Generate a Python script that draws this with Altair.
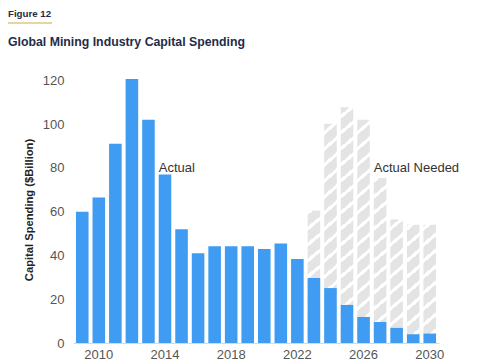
import altair as alt
import pandas as pd

# ---- data ----
years = [2009, 2010, 2011, 2012, 2013, 2014, 2015, 2016, 2017, 2018, 2019,
         2020, 2021, 2022, 2023, 2024, 2025, 2026, 2027, 2028, 2029, 2030]
actual = [60, 66.5, 91, 120.6, 102, 77, 52, 41, 44.2, 44.2, 44.2,
          43, 45.5, 38.4, 29.7, 25.1, 17.4, 11.9, 9.6, 6.9, 4.0, 4.3]
needed_years = [2023, 2024, 2025, 2026, 2027, 2028, 2029, 2030]
needed = [60.5, 100.2, 107.7, 102, 75.4, 56.4, 54, 54]
tick_years = [2010, 2014, 2018, 2022, 2026, 2030]
y_ticks = [0, 20, 40, 60, 80, 100, 120]
labels = ["Actual", "Actual Needed"]
label_years = [2014, 2027]
label_values = [80, 80]
fig_label = "Figure 12"
fig_title = "Global Mining Industry Capital Spending"

# ---- styling ----
FONT = "Liberation Sans"
BLUE = "#3f9cf2"
GRAY = "#e4e4e4"
NAVY = "#1f2c48"
PLOT_W = 366
PLOT_H = 267
Y_MAX = 122
BAR_W = 12.6
SLOPE = 0.85
PERIOD = 16.0
WHITE = 4.2

df_actual = pd.DataFrame({"year": years, "value": actual})
df_needed = pd.DataFrame({"year": needed_years, "value": needed})
df_labels = pd.DataFrame({"year": label_years, "value": label_values, "label": labels})

x_scale = alt.Scale(domain=years, paddingInner=0.24, paddingOuter=0.18)
y_scale = alt.Scale(domain=[0, Y_MAX], nice=False)

x_axis = alt.Axis(values=tick_years, labelAngle=0, labelFont=FONT, labelFontSize=13,
                  labelColor="#555555", ticks=False, domainColor="#d9d9d9",
                  labelPadding=5, title=None, grid=False)
y_axis = alt.Axis(values=y_ticks, labelFont=FONT, labelFontSize=13, labelColor="#555555",
                  domain=False, ticks=False, grid=False, labelPadding=9,
                  title="Capital Spending ($Billion)", titleFont=FONT, titleFontSize=11.2,
                  titleFontWeight="bold", titleColor="#222222", titlePadding=8)


def hatch(value):
    """Diagonal-stripe fill built as a hard-stop linear gradient for one bar."""
    h = value * PLOT_H / Y_MAX
    gx = SLOPE * BAR_W / h
    H = h * (1 + gx * gx)
    intervals = []
    k = -1
    while True:
        hi = h - k * PERIOD
        lo = hi - WHITE
        if hi < 0:
            break
        intervals.append((lo, hi))
        k += 1
    intervals.sort()
    stops = [alt.GradientStop(color=GRAY, offset=0)]
    last = 0.0
    for lo, hi in intervals:
        a = min(max(lo / H, 0.0), 1.0)
        b = min(max(hi / H, 0.0), 1.0)
        if b <= 0 or a >= 1 or b <= a:
            continue
        a = max(a, last)
        stops.append(alt.GradientStop(color=GRAY, offset=a))
        stops.append(alt.GradientStop(color="#ffffff", offset=a))
        stops.append(alt.GradientStop(color="#ffffff", offset=b))
        stops.append(alt.GradientStop(color=GRAY, offset=b))
        last = b
    stops.append(alt.GradientStop(color=GRAY, offset=1))
    return alt.LinearGradient(gradient="linear", stops=stops, x1=0, y1=0, x2=gx, y2=1)


X = alt.X("year:O", scale=x_scale, axis=x_axis)
Y = alt.Y("value:Q", scale=y_scale, axis=y_axis)

layers = []
for yr, v in zip(needed_years, needed):
    layer = alt.Chart(df_needed).transform_filter(alt.datum.year == yr).mark_bar(
        fill=hatch(v), strokeWidth=0
    ).encode(x=X, y=Y)
    layers.append(layer)

bars = alt.Chart(df_actual).mark_bar(color=BLUE).encode(x=X, y=Y)

text = alt.Chart(df_labels).mark_text(
    align="left", baseline="middle", font=FONT, fontSize=13, color="#333333"
).encode(
    x=alt.X("year:O", scale=x_scale, bandPosition=0, axis=x_axis),
    y=Y,
    text="label:N",
)

underline = alt.Chart(alt.Data(values=[{}])).mark_rule(
    color="#e6d59f", strokeWidth=2
).encode(x=alt.value(-66), x2=alt.value(-21), y=alt.value(-53))

fig_label_mark = alt.Chart(alt.Data(values=[{"t": fig_label}])).mark_text(
    align="left", baseline="alphabetic", font=FONT, fontSize=9.7, fontWeight="bold",
    color=NAVY
).encode(x=alt.value(-65), y=alt.value(-59.5), text="t:N")

fig_title_mark = alt.Chart(alt.Data(values=[{"t": fig_title}])).mark_text(
    align="left", baseline="alphabetic", font=FONT, fontSize=12.3, fontWeight="bold",
    color=NAVY
).encode(x=alt.value(-65), y=alt.value(-29.8), text="t:N")

chart = alt.layer(*layers, bars, text, underline, fig_label_mark, fig_title_mark).properties(
    width=PLOT_W,
    height=PLOT_H,
    autosize=alt.AutoSizeParams(type="none"),
    padding={"left": 65, "top": 68, "right": 30, "bottom": 17},
    background="white",
).configure_view(stroke=None)

chart.save("out.html", embed_options={"renderer": "svg", "actions": False})
